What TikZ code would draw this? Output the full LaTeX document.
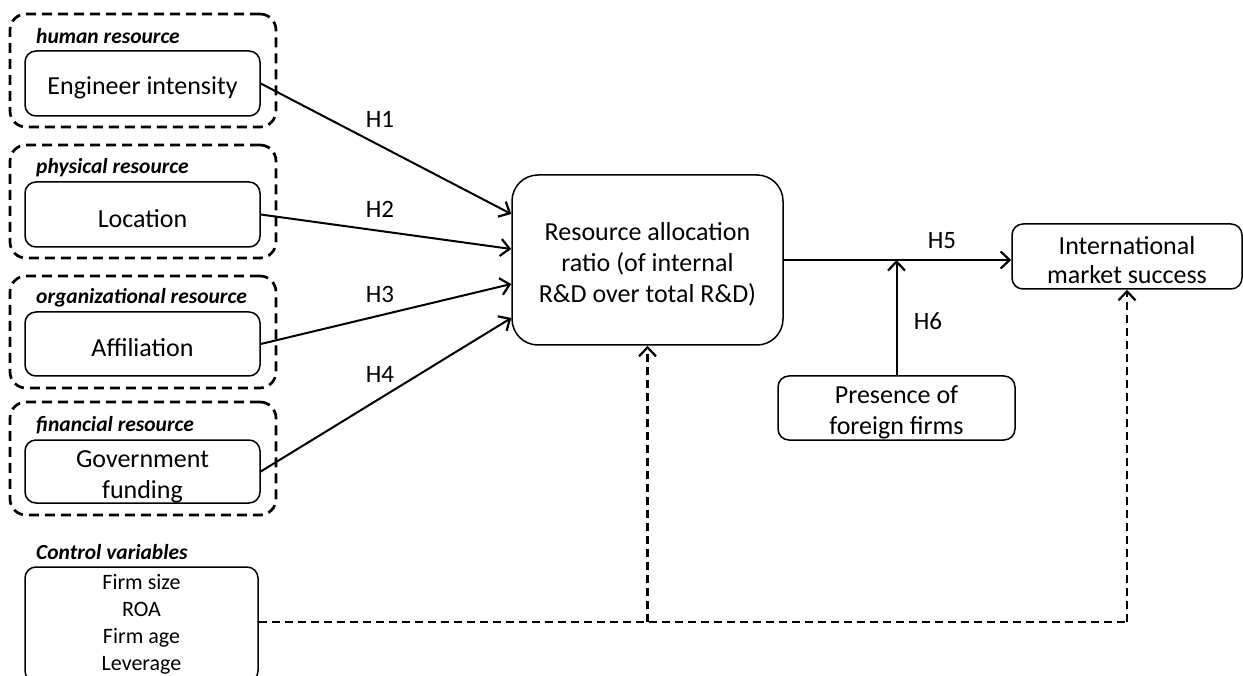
\documentclass[tikz,border=0pt]{standalone}
\usepackage{fontspec}
\setmainfont{Carlito}
\usetikzlibrary{arrows.meta,calc}
% extra height on a first line, which sets the text a little lower in its box
\newcommand\lift[1]{\rule{0pt}{#1}}
\begin{document}
\begin{tikzpicture}[x=1pt,y=-1pt,
  box/.style={draw, line width=1.5pt, rounded corners=11pt, inner sep=0pt, align=center,
    fill=white, font=\fontsize{26}{31}\selectfont},
  group/.style={draw, line width=2.7pt, dash pattern=on 10pt off 6pt, rounded corners=16pt, inner sep=0pt},
  tag/.style={anchor=west, inner sep=0pt, font=\fontsize{21.5}{25}\selectfont\bfseries\itshape},
  hyp/.style={inner sep=0pt, font=\fontsize{25}{29}\selectfont},
  tip/.style={-{Straight Barb[length=9pt,width=17pt,line width=2.2pt]}},
  arr/.style={line width=2pt, tip},
  ctrl/.style={line width=2.6pt, dash pattern=on 8pt off 5pt}
]
\useasboundingbox (0,0) rectangle (1243,676);

% resource groups (dashed frames)
\node[group, minimum width=266pt, minimum height=113pt] (g1) at (143,70.5) {};
\node[group, minimum width=266pt, minimum height=113pt] (g2) at (143,201.5) {};
\node[group, minimum width=266pt, minimum height=112pt] (g3) at (143,332) {};
\node[group, minimum width=266pt, minimum height=113pt] (g4) at (143,458.5) {};

\node[tag] (t1) at (36,36) {human resource};
\node[tag] (t2) at (36,168) {physical resource};
\node[tag] (t3) at (36,298) {organizational resource};
\node[tag] (t4) at (36,425) {financial resource};
\node[tag] (t5) at (36,552) {Control variables};

% resource variables
\node[box, minimum width=235pt, minimum height=65pt] (eng) at (142.5,83.5) {\lift{26pt}Engineer intensity};
\node[box, minimum width=235pt, minimum height=65pt] (loc) at (142.5,214.5) {\lift{26pt}Location};
\node[box, minimum width=235pt, minimum height=64pt] (aff) at (142.5,344) {\lift{26pt}Affiliation};
\node[box, minimum width=235pt, minimum height=63pt] (gov) at (142.5,471.5) {\lift{27pt}Government\\funding};

% control variables (box runs past the lower edge)
\node[box, minimum width=233pt, minimum height=115pt, font=\fontsize{22}{27}\selectfont]
  (cv) at (141.5,624.5) {Firm size\\ROA\\Firm age\\Leverage};

% mediator and outcome
\node[box, rounded corners=26pt, minimum width=271pt, minimum height=170pt] (ra) at (647.5,260)
  {\lift{26pt}Resource allocation\\ratio (of internal\\R\&D over total R\&D)};
\node[box, minimum width=230pt, minimum height=65pt, font=\fontsize{26}{29}\selectfont] (ims) at (1127,256.5)
  {\lift{25pt}International\\market success};
\node[box, minimum width=237pt, minimum height=64pt] (pff) at (896.5,408)
  {\lift{26pt}Presence of\\foreign firms};

% hypotheses H1--H4
\draw[arr] (eng.east) -- ([yshift=46pt]ra.west);
\draw[arr] (loc.east) -- ([yshift=11pt]ra.west);
\draw[arr] (aff.east) -- ([yshift=-24pt]ra.west);
\draw[arr] (gov.east) -- ([yshift=-58pt]ra.west);
\node[hyp] (h1) at (380,119) {H1};
\node[hyp] (h2) at (380,209) {H2};
\node[hyp] (h3) at (380,294) {H3};
\node[hyp] (h4) at (380,374) {H4};

% H5 and moderation H6
\coordinate (j) at (pff.north |- ra.east);
\draw[arr] (ra.east) -- (ra.east -| ims.west);
\draw[arr] (pff.north) -- (j);
\node[hyp] (h5) at (942,241) {H5};
\node[hyp] (h6) at (928,321) {H6};

% control paths
\coordinate (c0) at ([yshift=2.5pt]cv.east);
\coordinate (c1) at (ra.south |- c0);
\coordinate (c2) at (ims.south |- c0);
\draw[ctrl] (c0) -- (c2);
\draw[ctrl, tip] (c1) -- (ra.south);
\draw[ctrl, tip] (c2) -- (ims.south);
\end{tikzpicture}
\end{document}
